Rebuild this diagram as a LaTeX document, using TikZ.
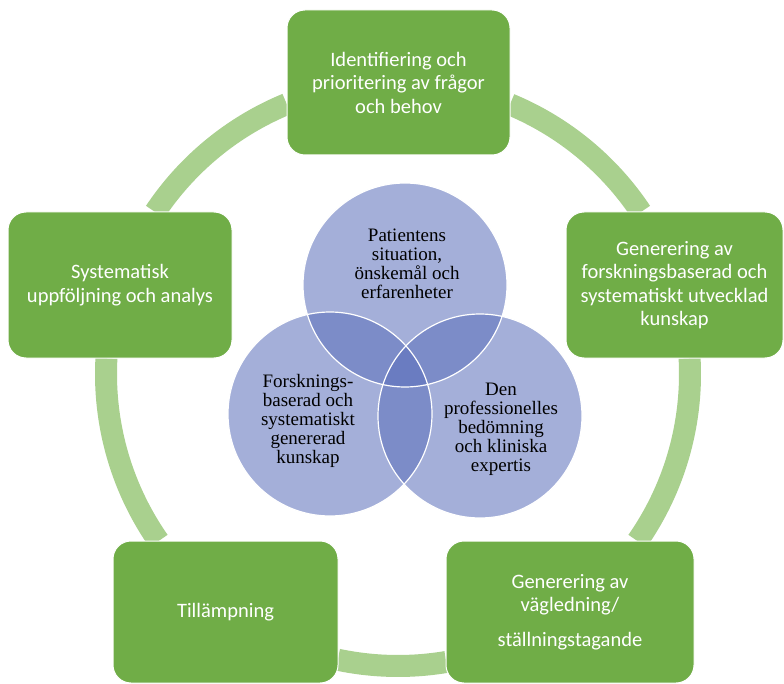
\documentclass[tikz,border=0pt]{standalone}
\usepackage{fontspec}
\setmainfont{Liberation Serif}
\newfontfamily\boxfont{Carlito}
\definecolor{boxgreen}{RGB}{112,173,71}
\definecolor{ringgreen}{RGB}{169,208,142}
\definecolor{vennblue}{RGB}{93,113,188}
\begin{document}
\begin{tikzpicture}[x=1pt,y=-1pt,
  box/.style={rectangle, rounded corners=18pt, fill=boxgreen, draw=white, line width=1pt,
    text=white, font=\boxfont\fontsize{20.5}{23.5}\selectfont, align=center, inner sep=0pt},
  ring/.style={draw=ringgreen, line width=22pt},
  venn/.style={circle, minimum size=204pt, inner sep=0pt, fill=vennblue, fill opacity=0.556},
  vennline/.style={circle, minimum size=204pt, inner sep=0pt, draw=white, line width=1.2pt},
  venntext/.style={font=\fontsize{19}{19}\selectfont, align=center, text=black, inner sep=0pt}]
\useasboundingbox (0,0) rectangle (784,684);
\fill[white] (0,0) rectangle (784,684);

% ring
\coordinate (rc) at (398,374);
\draw[ring] (rc) ++(292.55:292) arc[start angle=292.55, end angle=326.3, radius=292];
\draw[ring] (rc) ++(356.9:292) arc[start angle=356.9, end angle=394.9, radius=292];
\draw[ring] (rc) ++(80.5:292) arc[start angle=80.5, end angle=101.9, radius=292];
\draw[ring] (rc) ++(145.1:292) arc[start angle=145.1, end angle=183.1, radius=292];
\draw[ring] (rc) ++(213.7:292) arc[start angle=213.7, end angle=247.6, radius=292];

% boxes
\node[box, minimum width=223pt, minimum height=145pt] (top) at (398.5,82.5)
  {Identifiering och\\prioritering av frågor\\och behov};
\node[box, minimum width=217pt, minimum height=146pt] (right) at (674.5,285)
  {Generering av\\forskningsbaserad och\\systematiskt utvecklad\\kunskap};
\node[box, minimum width=248pt, minimum height=142pt] (bright) at (570,612)
  {Generering av\\vägledning/\\[11pt]ställningstagande};
\node[box, minimum width=225pt, minimum height=142pt] (bleft) at (225.5,612)
  {Tillämpning};
\node[box, minimum width=224pt, minimum height=146pt] (left) at (120,285)
  {Systematisk\\uppföljning och analys};

% venn
\node[venn] (c1) at (405,285) {};
\node[venn] (c2) at (330,414) {};
\node[venn] (c3) at (480,416) {};
\node[vennline] (o1) at (c1) {};
\node[vennline] (o2) at (c2) {};
\node[vennline] (o3) at (c3) {};

\node[venntext] (t1) at (407,264) {Patientens\\situation,\\önskemål och\\erfarenheter};
\node[venntext] (t2) at (308,421) {Forsknings-\\baserad och\\systematiskt\\genererad\\kunskap};
\node[venntext] (t3) at (501,429) {Den\\professionelles\\bedömning\\och kliniska\\expertis};
\end{tikzpicture}
\end{document}
